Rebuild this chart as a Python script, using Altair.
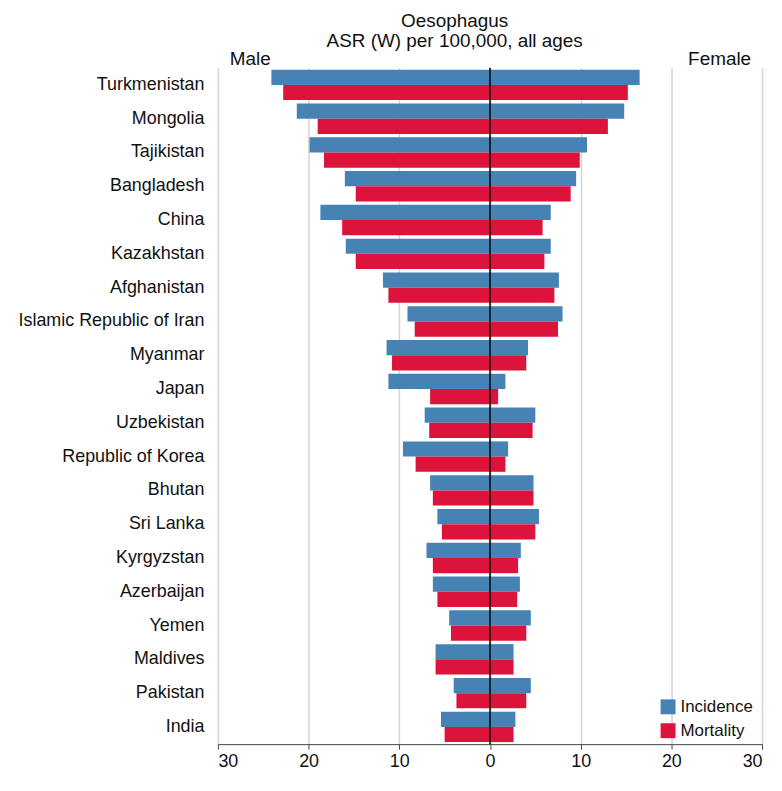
import altair as alt
import pandas as pd

countries = ["Turkmenistan", "Mongolia", "Tajikistan", "Bangladesh", "China", "Kazakhstan",
             "Afghanistan", "Islamic Republic of Iran", "Myanmar", "Japan", "Uzbekistan",
             "Republic of Korea", "Bhutan", "Sri Lanka", "Kyrgyzstan", "Azerbaijan", "Yemen",
             "Maldives", "Pakistan", "India"]
male_incidence = [24.1, 21.3, 19.9, 16.0, 18.7, 15.9, 11.8, 9.1, 11.4, 11.2, 7.2, 9.6, 6.6, 5.8, 7.0, 6.3, 4.5, 6.0, 4.0, 5.4]
male_mortality = [22.8, 19.0, 18.3, 14.8, 16.3, 14.8, 11.2, 8.3, 10.8, 6.6, 6.7, 8.2, 6.3, 5.3, 6.3, 5.8, 4.3, 6.0, 3.7, 5.0]
female_incidence = [16.5, 14.8, 10.7, 9.5, 6.7, 6.7, 7.6, 8.0, 4.2, 1.7, 5.0, 2.0, 4.8, 5.4, 3.4, 3.3, 4.5, 2.6, 4.5, 2.8]
female_mortality = [15.2, 13.0, 9.9, 8.9, 5.8, 6.0, 7.1, 7.5, 4.0, 0.9, 4.7, 1.7, 4.8, 5.0, 3.1, 3.0, 4.0, 2.6, 4.0, 2.6]
measures = ["Incidence", "Mortality"]
colors = ["#4682b4", "#dc143c"]
tick_values = [-30, -20, -10, 0, 10, 20, 30]
title_lines = ["Oesophagus", "ASR (W) per 100,000, all ages"]
sex_names = ["Male", "Female"]

rows = []
for i, c in enumerate(countries):
    rows.append({"country": c, "sex": "Male", "measure": "Incidence", "value": -male_incidence[i]})
    rows.append({"country": c, "sex": "Male", "measure": "Mortality", "value": -male_mortality[i]})
    rows.append({"country": c, "sex": "Female", "measure": "Incidence", "value": female_incidence[i]})
    rows.append({"country": c, "sex": "Female", "measure": "Mortality", "value": female_mortality[i]})
df = pd.DataFrame(rows)

W, H = 547, 680
FONT = "Liberation Sans"

bars = alt.Chart(df).mark_bar().encode(
    y=alt.Y("country:N", sort=countries,
            scale=alt.Scale(paddingInner=0.1, paddingOuter=0.06),
            axis=alt.Axis(title=None, domain=False, ticks=False, labelFontSize=18,
                          labelPadding=14, labelColor="#111111", labelLimit=300)),
    yOffset=alt.YOffset("measure:N", sort=measures),
    x=alt.X("value:Q", scale=alt.Scale(domain=[-30, 30], nice=False),
            axis=alt.Axis(values=tick_values, labelExpr="abs(datum.value)", title=None,
                          grid=True, gridColor="#d4d4d4", gridWidth=1.5,
                          domainColor="#444444", tickColor="#444444", tickSize=5,
                          labelFontSize=18, labelPadding=3, labelColor="#111111")),
    color=alt.Color("measure:N", sort=measures,
                    scale=alt.Scale(domain=measures, range=colors),
                    legend=alt.Legend(title=None, orient="none", legendX=444, legendY=634,
                                      symbolType="square", symbolSize=225, symbolStrokeWidth=0,
                                      symbolOpacity=1, labelFontSize=17, labelColor="#111111",
                                      rowPadding=6, padding=0, labelOffset=4)),
)

zero = alt.Chart(pd.DataFrame({"x": [0]})).mark_rule(color="#000000", strokeWidth=1.5).encode(
    x="x:Q"
)

title1 = alt.Chart(pd.DataFrame({"t": [title_lines[0]]})).mark_text(
    align="center", baseline="middle", fontSize=19, color="#111111"
).encode(x=alt.value(238), y=alt.value(-47), text="t:N")

title2 = alt.Chart(pd.DataFrame({"t": [title_lines[1]]})).mark_text(
    align="center", baseline="middle", fontSize=19, color="#111111"
).encode(x=alt.value(238), y=alt.value(-27), text="t:N")

male_lbl = alt.Chart(pd.DataFrame({"t": [sex_names[0]]})).mark_text(
    align="left", baseline="middle", fontSize=19, color="#111111"
).encode(x=alt.value(12), y=alt.value(-9), text="t:N")

female_lbl = alt.Chart(pd.DataFrame({"t": [sex_names[1]]})).mark_text(
    align="right", baseline="middle", fontSize=19, color="#111111"
).encode(x=alt.value(536), y=alt.value(-9), text="t:N")

chart = alt.layer(bars, zero, title1, title2, male_lbl, female_lbl).properties(
    width=W, height=H,
    padding={"left": 211, "top": 58, "right": 12, "bottom": 26},
    autosize=alt.AutoSizeParams(type="none"),
).configure(font=FONT).configure_view(stroke=None)

chart.save("out.html", embed_options={"renderer": "svg", "actions": False})
